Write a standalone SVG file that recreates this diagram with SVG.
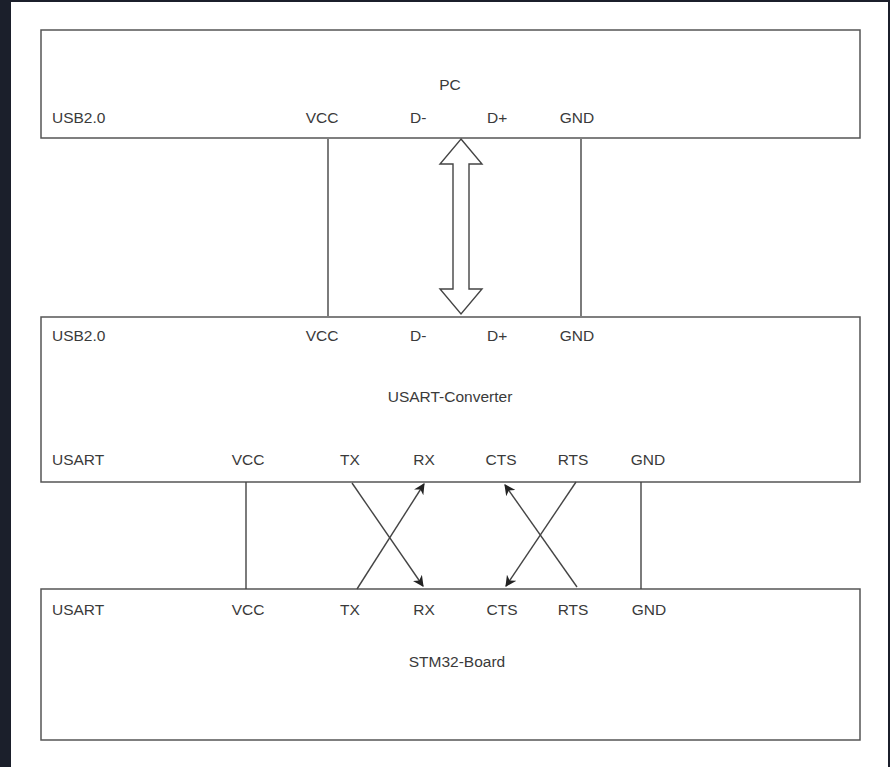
<svg xmlns="http://www.w3.org/2000/svg" width="890" height="767" viewBox="0 0 890 767">
<style>
.box{fill:#fff;stroke:#555;stroke-width:1.5}
.t{font-family:"Liberation Sans",Arial,sans-serif;font-size:15.5px;fill:#3a3a3a}
.m{text-anchor:middle}
.ln{stroke:#444;stroke-width:1.4;fill:none}
</style>
<defs>
<marker id="ah" viewBox="0 0 10 10" refX="9" refY="5" markerWidth="11" markerHeight="11" markerUnits="userSpaceOnUse" orient="auto">
<path d="M0,0 L10,5 L0,10 L3,5 Z" fill="#222"/>
</marker>
</defs>
<rect x="0" y="0" width="890" height="767" fill="#1b1f2b"/>
<rect x="11" y="2" width="877" height="765" fill="#fff"/>
<g id="pc">
<rect class="box" x="41" y="30" width="819" height="108"/>
<text class="t m" x="450" y="90">PC</text>
<text class="t" x="52" y="123">USB2.0</text>
<text class="t m" x="322" y="123">VCC</text>
<text class="t" x="410" y="123">D-</text>
<text class="t" x="487" y="123">D+</text>
<text class="t m" x="577" y="123">GND</text>
</g>
<g id="converter">
<rect class="box" x="41" y="317" width="819" height="165"/>
<text class="t" x="52" y="341">USB2.0</text>
<text class="t m" x="322" y="341">VCC</text>
<text class="t" x="410" y="341">D-</text>
<text class="t" x="487" y="341">D+</text>
<text class="t m" x="577" y="341">GND</text>
<text class="t m" x="450" y="402">USART-Converter</text>
<text class="t" x="52" y="465">USART</text>
<text class="t m" x="248" y="465">VCC</text>
<text class="t m" x="350" y="465">TX</text>
<text class="t m" x="424" y="465">RX</text>
<text class="t m" x="501" y="465">CTS</text>
<text class="t m" x="573" y="465">RTS</text>
<text class="t m" x="648" y="465">GND</text>
</g>
<g id="stm32">
<rect class="box" x="41" y="589" width="819" height="151"/>
<text class="t" x="52" y="615">USART</text>
<text class="t m" x="248" y="615">VCC</text>
<text class="t m" x="350" y="615">TX</text>
<text class="t m" x="424" y="615">RX</text>
<text class="t m" x="502" y="615">CTS</text>
<text class="t m" x="573" y="615">RTS</text>
<text class="t m" x="649" y="615">GND</text>
<text class="t m" x="457" y="667">STM32-Board</text>
</g>
<g id="connectors">
<line class="ln" x1="328" y1="139" x2="328" y2="316"/>
<line class="ln" x1="581" y1="139" x2="581" y2="316"/>
<path d="M461,139 L482,164 L469,164 L469,289 L482,289 L461,314 L440,289 L453,289 L453,164 L440,164 Z" fill="#fff" stroke="#444" stroke-width="1.4" stroke-linejoin="miter"/>
<line class="ln" x1="246" y1="482" x2="246" y2="589"/>
<line class="ln" x1="641" y1="482" x2="641" y2="589"/>
<line class="ln" x1="352" y1="483" x2="423" y2="586" marker-end="url(#ah)"/>
<line class="ln" x1="357" y1="589" x2="424" y2="484" marker-end="url(#ah)"/>
<line class="ln" x1="577" y1="587" x2="505" y2="485" marker-end="url(#ah)"/>
<line class="ln" x1="576" y1="482" x2="506" y2="586" marker-end="url(#ah)"/>
</g>
</svg>
